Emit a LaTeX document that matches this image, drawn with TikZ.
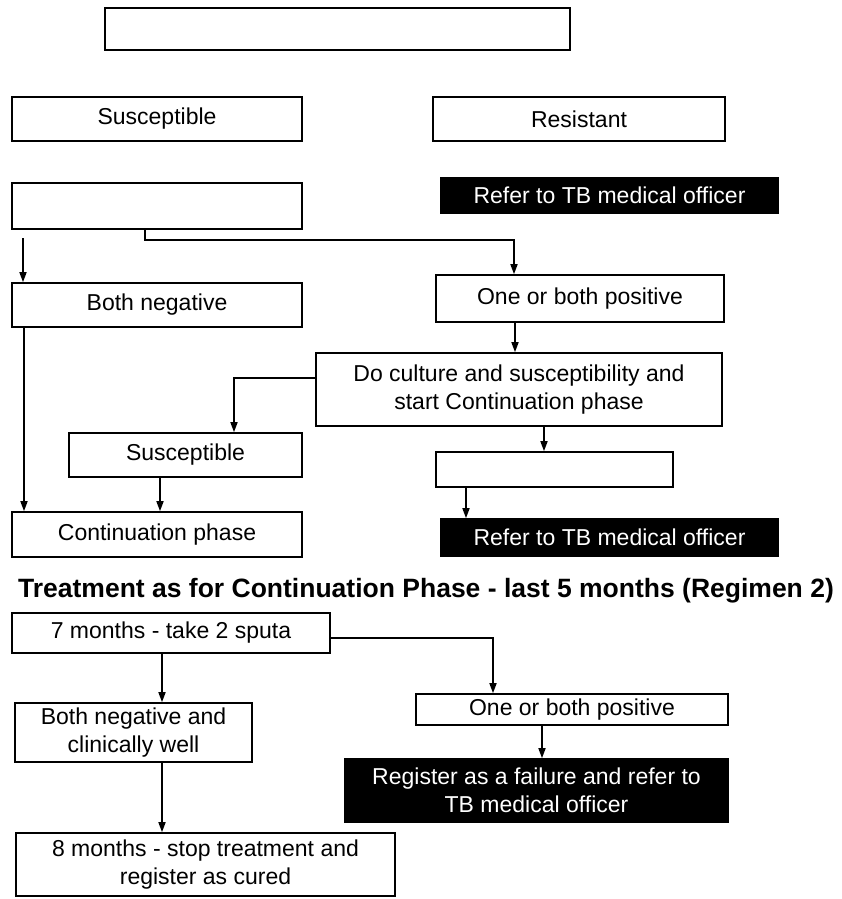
\documentclass[tikz,border=0pt]{standalone}
\usepackage{fontspec}
\setmainfont{Liberation Sans}
\usetikzlibrary{arrows.meta}

\begin{document}
\begin{tikzpicture}[x=1pt,y=-1pt,
    box/.style={draw,line width=1.6pt,inner sep=2pt,align=center,font=\fontsize{23}{28}\selectfont},
    dark/.style={box,fill=black,text=white},
    arr/.style={line width=1.6pt,-{Triangle[length=10pt,width=7pt]}}]
  \useasboundingbox (0,0) rectangle (842,899);
  % upper part
  \node[box,minimum width=465pt,minimum height=42pt] (top) at (337.5,29) {};
  \node[box,minimum width=290pt,minimum height=44pt] (susc) at (157,119) {Susceptible};
  \node[box,minimum width=292pt,minimum height=44pt] (resist) at (579,119) {Resistant};
  \node[dark,minimum width=337pt,minimum height=35pt] (refer) at (609.5,195.5) {Refer to TB medical officer};
  \node[box,minimum width=290pt,minimum height=46pt] (smear) at (157,206) {};
  \node[box,minimum width=290pt,minimum height=44pt] (neg) at (157,305) {Both negative};
  \node[box,minimum width=288pt,minimum height=47pt] (pos) at (580,298.5) {One or both positive};
  \node[box,minimum width=406pt,minimum height=73pt] (culture) at (519,389.5)
    {Do culture and susceptibility and\\start Continuation phase};
  \node[box,minimum width=233pt,minimum height=44pt] (susctwo) at (185.5,455) {Susceptible};
  \node[box,minimum width=237pt,minimum height=35pt] (result) at (554.5,469.5) {};
  \node[box,minimum width=290pt,minimum height=45pt] (contin) at (157,534.5) {Continuation phase};
  \node[dark,minimum width=337pt,minimum height=37pt] (refertwo) at (609.5,537.5) {Refer to TB medical officer};
  \coordinate (negin) at (23,238);
  \draw[arr] ([xshift=-12pt]smear.south) -- ++(0,10) -| ([xshift=-66pt]pos.north);
  \draw[arr] (negin) -- (negin |- neg.north);
  \draw[arr] ([xshift=-65pt]pos.south) -- ([xshift=-65pt]pos.south |- culture.north);
  \draw[arr] ([yshift=11.5pt]culture.west) -| ([xshift=48.5pt]susctwo.north);
  \draw[arr] ([xshift=-133pt]neg.south) -- ([xshift=-133pt]contin.north);
  \draw[arr] ([xshift=-25.5pt]susctwo.south) -- ([xshift=-25.5pt]susctwo.south |- contin.north);
  \draw[arr] ([xshift=25pt]culture.south) -- ([xshift=25pt]culture.south |- result.north);
  \draw[arr] ([xshift=-88.5pt]result.south) -- ([xshift=-88.5pt]result.south |- refertwo.north);
  % lower part
  \node[font=\bfseries\fontsize{26.5}{30}\selectfont] (title) at (426,591)
    {Treatment as for Continuation Phase - last 5 months (Regimen 2)};
  \node[box,minimum width=318pt,minimum height=40pt] (seven) at (171,633) {7 months - take 2 sputa};
  \node[box,minimum width=312pt,minimum height=31pt] (postwo) at (572,709.5) {One or both positive};
  \node[box,minimum width=237pt,minimum height=59pt] (well) at (133.5,732.5) {Both negative and\\clinically well};
  \node[dark,minimum width=383pt,minimum height=63pt] (fail) at (536.5,790.5)
    {Register as a failure and refer to\\TB medical officer};
  \node[box,minimum width=379pt,minimum height=63pt] (eight) at (205.5,864.5)
    {8 months - stop treatment and\\register as cured};
  \draw[arr] ([yshift=-5pt]seven.east) -| ([xshift=-79pt]postwo.north);
  \draw[arr] ([xshift=-9pt]seven.south) -- ([xshift=-9pt]seven.south |- well.north);
  \draw[arr] ([xshift=28.5pt]well.south) -- ([xshift=28.5pt]well.south |- eight.north);
  \draw[arr] ([xshift=-30pt]postwo.south) -- ([xshift=-30pt]postwo.south |- fail.north);
\end{tikzpicture}
\end{document}
